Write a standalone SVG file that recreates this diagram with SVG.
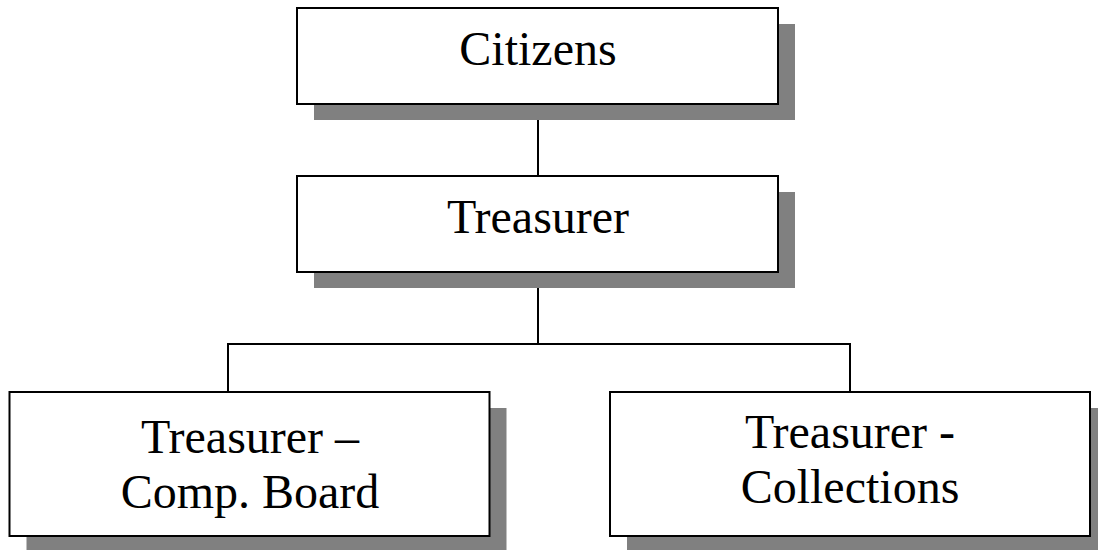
<svg xmlns="http://www.w3.org/2000/svg" width="1098" height="550" viewBox="0 0 1098 550">
<style>
.shadow{fill:#808080;stroke:none}
.box{fill:#ffffff;stroke:#000000;stroke-width:2}
.conn{fill:none;stroke:#000000;stroke-width:2}
.lbl{font-family:"Liberation Serif","Times New Roman",serif;font-size:48px;fill:#000000;text-anchor:middle}
</style>
<rect width="1098" height="550" fill="#ffffff"/>
<g id="connectors">
<line class="conn" x1="538" y1="104" x2="538" y2="176"/>
<line class="conn" x1="538" y1="272" x2="538" y2="344"/>
<polyline class="conn" points="228,392 228,344 850,344 850,392"/>
</g>
<g id="node-citizens">
<rect class="shadow" x="314" y="24" width="481" height="96"/>
<rect class="box" x="297" y="8" width="481" height="96"/>
<text class="lbl" x="538" y="65">Citizens</text>
</g>
<g id="node-treasurer">
<rect class="shadow" x="314" y="192" width="481" height="96"/>
<rect class="box" x="297" y="176" width="481" height="96"/>
<text class="lbl" x="538" y="233">Treasurer</text>
</g>
<g id="node-comp-board">
<rect class="shadow" x="26.5" y="408" width="480" height="144"/>
<rect class="box" x="9.5" y="392" width="480" height="144"/>
<text class="lbl" x="250" y="453">Treasurer –</text>
<text class="lbl" x="250" y="508">Comp. Board</text>
</g>
<g id="node-collections">
<rect class="shadow" x="627" y="408" width="480" height="144"/>
<rect class="box" x="610" y="392" width="480" height="144"/>
<text class="lbl" x="850" y="448">Treasurer -</text>
<text class="lbl" x="850" y="503">Collections</text>
</g>
</svg>
